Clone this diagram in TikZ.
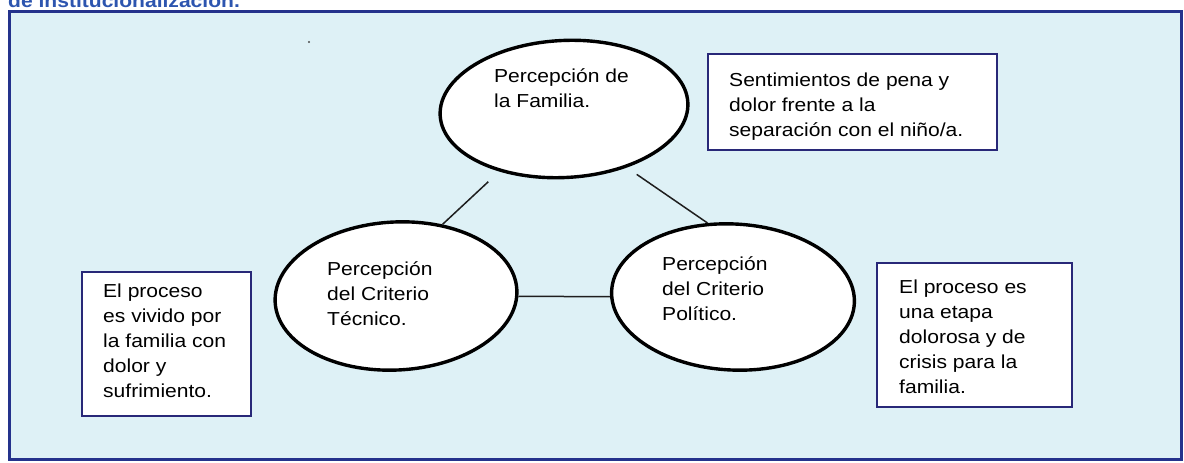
\documentclass[tikz,border=0pt]{standalone}
\usepackage{fontspec}
\setmainfont{Liberation Sans}[FakeStretch=1.12]
\usetikzlibrary{shapes.geometric}
\definecolor{framefill}{RGB}{222,241,246}
\definecolor{frameline}{RGB}{36,50,140}
\definecolor{boxline}{RGB}{40,40,120}
\definecolor{titleblue}{RGB}{45,85,175}
\definecolor{linkgray}{RGB}{30,30,30}
\newcommand\mltext[1]{\vtop{\baselineskip=25pt\lineskiplimit=-10pt\halign{##\hfil\cr#1\crcr}}}
\tikzset{
  bodyfont/.style={font=\fontsize{18.8pt}{25pt}\selectfont},
  frame/.style={draw=frameline, line width=3pt, fill=framefill},
  ell/.style={ellipse, draw=black, line width=3.4pt, fill=white, inner sep=0pt},
  infobox/.style={rectangle, draw=boxline, line width=1.4pt, fill=white, inner sep=0pt},
  txt/.style={bodyfont, anchor=base west, inner sep=0pt, text=black},
  ttl/.style={font=\fontsize{18.8pt}{25pt}\selectfont\bfseries, anchor=base west, inner sep=0pt, text=titleblue},
  link/.style={draw=linkgray, line width=1.5pt}
}
\begin{document}
\begin{tikzpicture}[x=1pt,y=-1pt]
\useasboundingbox (0,0) rectangle (1184,463);
\clip (0,0) rectangle (1184,463);
\fill[white] (0,0) rectangle (1184,463);
\node[ttl] (title) at (8,7.5) {de institucionalización.};
\draw[frame] (9,11) rectangle (1181,459);
\fill[black!70] (309,42) circle (1.1);

% ellipses
\node[ell, rotate=3, minimum width=248pt, minimum height=137pt] (fam) at (564,109) {};
\node[ell, rotate=3, minimum width=242pt, minimum height=148pt] (tec) at (396,296) {};
\node[ell, rotate=-3, minimum width=243pt, minimum height=146pt] (pol) at (733,297) {};

% boxes
\node[infobox, minimum width=289pt, minimum height=96pt] (b1) at (852.5,102) {};
\node[infobox, minimum width=169pt, minimum height=144pt] (b2) at (166.5,344) {};
\node[infobox, minimum width=195pt, minimum height=144pt] (b3) at (974.5,335) {};

% connectors
\draw[link, shorten <=15pt] (fam.221) -- (tec.54);
\draw[link, shorten <=12pt] (fam.314) -- (pol.112);
\draw[link] (tec) -- (pol);

% texts
\node[txt] (famt) at (494,82) {\mltext{Percepción de\cr la Familia.}};
\node[txt] (tect) at (327,275) {\mltext{Percepción\cr del Criterio\cr Técnico.}};
\node[txt] (polt) at (662,270) {\mltext{Percepción\cr del Criterio\cr Político.}};
\node[txt] (b1t) at (729,86) {\mltext{Sentimientos de pena y\cr dolor frente a la\cr separación con el niño/a.}};
\node[txt] (b2t) at (103,297) {\mltext{El proceso\cr es vivido por\cr la familia con\cr dolor y\cr sufrimiento.}};
\node[txt] (b3t) at (899,293) {\mltext{El proceso es\cr una etapa\cr dolorosa y de\cr crisis para la\cr familia.}};
\end{tikzpicture}
\end{document}
